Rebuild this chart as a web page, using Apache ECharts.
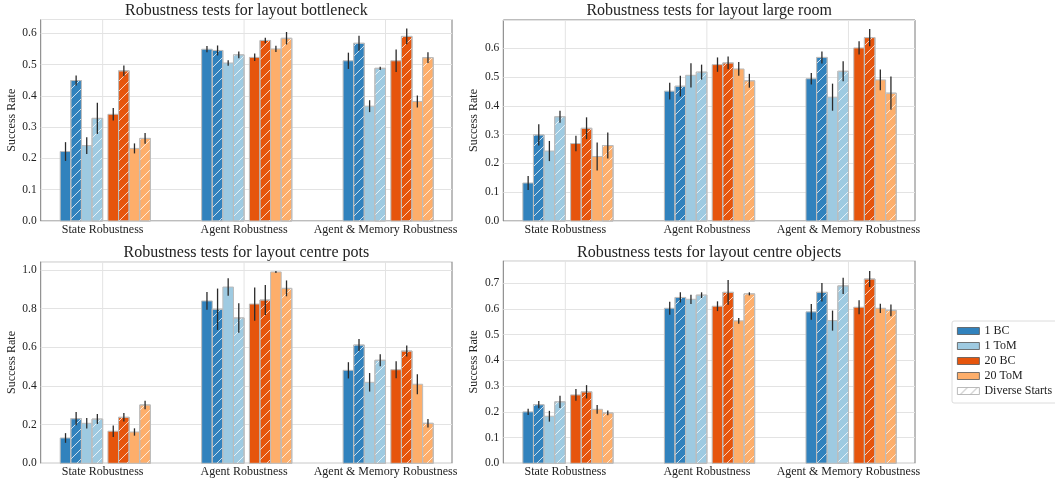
<!DOCTYPE html>
<html><head><meta charset="utf-8">
<script src="https://cdn.jsdelivr.net/npm/echarts@6/dist/echarts.min.js"></script>
<style>html,body{margin:0;padding:0;background:#fff}#c{width:1055px;height:481px}</style>
</head><body><div id="c"></div>
<script>
// ---------------- data ----------------
const categories = ['State Robustness', 'Agent Robustness', 'Agent & Memory Robustness'];
const methods = ['1 BC', '1 ToM', '20 BC', '20 ToM'];
const layouts = ['bottleneck', 'large room', 'centre pots', 'centre objects'];
// bar order inside each group: 1 BC, 1 BC diverse, 1 ToM, 1 ToM diverse, 20 BC, 20 BC diverse, 20 ToM, 20 ToM diverse
const bottleneckMean = [
  [0.222, 0.449, 0.241, 0.328, 0.341, 0.480, 0.232, 0.264],
  [0.549, 0.545, 0.505, 0.531, 0.523, 0.577, 0.550, 0.584],
  [0.512, 0.568, 0.367, 0.488, 0.512, 0.590, 0.382, 0.522]
];
const bottleneckErr = [
  [0.030, 0.016, 0.027, 0.050, 0.020, 0.017, 0.016, 0.017],
  [0.010, 0.016, 0.009, 0.011, 0.012, 0.009, 0.010, 0.020],
  [0.026, 0.024, 0.019, 0.005, 0.036, 0.025, 0.019, 0.017]
];
const largeRoomMean = [
  [0.132, 0.299, 0.243, 0.362, 0.269, 0.322, 0.224, 0.262],
  [0.451, 0.468, 0.506, 0.517, 0.543, 0.549, 0.528, 0.487],
  [0.494, 0.568, 0.430, 0.520, 0.601, 0.637, 0.490, 0.444]
];
const largeRoomErr = [
  [0.024, 0.037, 0.035, 0.021, 0.027, 0.038, 0.049, 0.045],
  [0.029, 0.036, 0.042, 0.026, 0.025, 0.022, 0.024, 0.024],
  [0.020, 0.021, 0.047, 0.035, 0.023, 0.030, 0.036, 0.058]
];
const centrePotsMean = [
  [0.131, 0.231, 0.207, 0.229, 0.166, 0.238, 0.162, 0.302],
  [0.840, 0.797, 0.912, 0.752, 0.824, 0.845, 0.990, 0.905],
  [0.481, 0.612, 0.419, 0.533, 0.484, 0.581, 0.409, 0.207]
];
const centrePotsErr = [
  [0.025, 0.034, 0.027, 0.026, 0.030, 0.022, 0.019, 0.022],
  [0.046, 0.107, 0.045, 0.076, 0.086, 0.078, 0.005, 0.041],
  [0.042, 0.031, 0.048, 0.031, 0.044, 0.029, 0.052, 0.022]
];
const centreObjectsMean = [
  [0.200, 0.228, 0.183, 0.239, 0.266, 0.278, 0.210, 0.196],
  [0.603, 0.645, 0.638, 0.654, 0.611, 0.665, 0.554, 0.659],
  [0.589, 0.665, 0.555, 0.690, 0.607, 0.717, 0.603, 0.595]
];
const centreObjectsErr = [
  [0.012, 0.014, 0.021, 0.024, 0.023, 0.026, 0.017, 0.009],
  [0.025, 0.020, 0.018, 0.011, 0.019, 0.048, 0.011, 0.006],
  [0.031, 0.036, 0.039, 0.032, 0.027, 0.031, 0.018, 0.023]
];
const yMax = [0.644, 0.698, 1.043, 0.788];
const yInterval = [0.1, 0.1, 0.2, 0.1];

// ---------------- styling / layout ----------------
const means = [bottleneckMean, largeRoomMean, centrePotsMean, centreObjectsMean];
const errs = [bottleneckErr, largeRoomErr, centrePotsErr, centreObjectsErr];
const colors = ['#3182bd', '#9ecae1', '#e6550d', '#fdae6b'];
const FONT = '"Liberation Serif", "DejaVu Serif", serif';
const grids = [
  {left: 40.7, top: 19.5, width: 411.3, height: 201.5},
  {left: 503.3, top: 20, width: 411.7, height: 201},
  {left: 40.7, top: 261.7, width: 411.3, height: 201.6},
  {left: 503.3, top: 260.7, width: 411.7, height: 202.6}
];
const titleTops = [3, 3, 245, 245];
const BW = 0.075;
function barOffset(b) {
  return b < 4 ? -0.3 + BW * (b + 0.5) : 0.0375 + BW * (b - 4 + 0.5);
}

function makeHatch(bg, line) {
  const cv = document.createElement('canvas');
  cv.width = 10; cv.height = 10;
  const ctx = cv.getContext('2d');
  if (bg) { ctx.fillStyle = bg; ctx.fillRect(0, 0, 10, 10); }
  ctx.strokeStyle = line; ctx.lineWidth = 1;
  ctx.beginPath();
  ctx.moveTo(-1, 11); ctx.lineTo(11, -1);
  ctx.moveTo(-1, 1); ctx.lineTo(1, -1);
  ctx.moveTo(9, 11); ctx.lineTo(11, 9);
  ctx.stroke();
  return cv;
}
const hatchBar = {image: makeHatch(null, 'rgba(255,255,255,0.75)'), repeat: 'repeat'};
const hatchLegend = {image: makeHatch('#ffffff', '#b0b0b0'), repeat: 'repeat'};

function barRender(params, api) {
  const x = api.value(0), y = api.value(1), e = api.value(2), div = api.value(3);
  const m = api.value(4);
  const p0 = api.coord([x - BW / 2, y]);
  const p1 = api.coord([x + BW / 2, 0]);
  const shape = {x: p0[0], y: p0[1], width: p1[0] - p0[0], height: p1[1] - p0[1]};
  const children = [{
    type: 'rect', shape: shape,
    style: {fill: colors[m], stroke: '#bcbcbc', lineWidth: 1}
  }];
  if (div) {
    children.push({type: 'rect', shape: shape, style: {fill: hatchBar, stroke: '#bcbcbc', lineWidth: 1}});
  }
  const e0 = api.coord([x, y - e]);
  const e1 = api.coord([x, y + e]);
  children.push({
    type: 'line', shape: {x1: e0[0], y1: e0[1], x2: e1[0], y2: e1[1]},
    style: {stroke: '#2a2a2a', lineWidth: 1.3}
  });
  return {type: 'group', children: children};
}

function catRender(params, api) {
  const c = api.value(0);
  const cs = params.coordSys;
  const p = api.coord([c, 0]);
  return {
    type: 'group', children: [
      {type: 'line', shape: {x1: p[0], y1: cs.y, x2: p[0], y2: cs.y + cs.height},
       style: {stroke: '#e3e3e3', lineWidth: 1}},
      {type: 'text', x: p[0], y: cs.y + cs.height + 3,
       style: {text: categories[c], fill: '#222', font: '12px ' + FONT, textAlign: 'center', textVerticalAlign: 'top'}}
    ]
  };
}

const option = {
  animation: false,
  backgroundColor: '#ffffff',
  title: grids.map((g, i) => ({
    text: 'Robustness tests for layout ' + layouts[i],
    left: g.left + g.width / 2, textAlign: 'center',
    top: titleTops[i], padding: 0,
    textStyle: {fontFamily: FONT, fontSize: 16, fontWeight: 'normal', color: '#222'}
  })),
  grid: grids.map(g => Object.assign({show: true, borderColor: '#7a7a7a', borderWidth: 1, backgroundColor: 'transparent'}, g)),
  xAxis: grids.map((g, i) => ({
    type: 'value', gridIndex: i, min: -0.438, max: 2.47,
    axisLabel: {show: false}, axisTick: {show: false}, splitLine: {show: false},
    axisLine: {show: false}
  })),
  yAxis: grids.map((g, i) => ({
    type: 'value', gridIndex: i, min: 0, max: yMax[i], interval: yInterval[i],
    name: 'Success Rate', nameLocation: 'middle', nameGap: 23,
    nameTextStyle: {fontFamily: FONT, fontSize: 12, color: '#222'},
    axisLine: {show: false}, axisTick: {show: false},
    axisLabel: {
      fontFamily: FONT, fontSize: 11.5, color: '#222', margin: 4, showMaxLabel: false,
      formatter: v => {
        const k = v / yInterval[i];
        return Math.abs(k - Math.round(k)) < 1e-6 ? v.toFixed(1) : '';
      }
    },
    splitLine: {lineStyle: {color: '#e3e3e3', width: 1}}
  })),
  legend: {
    orient: 'vertical', left: 952, top: 321,
    icon: 'rect', itemWidth: 22, itemHeight: 7, itemGap: 3,
    padding: [4, 6, 6, 5],
    backgroundColor: '#fff', borderColor: '#dcdcdc', borderWidth: 1, borderRadius: 2,
    textStyle: {fontFamily: FONT, fontSize: 12, lineHeight: 12, color: '#222'},
    selectedMode: false,
    data: methods.map((m, k) => ({name: m, itemStyle: {color: colors[k], borderColor: '#555', borderWidth: 0.8}}))
      .concat([{name: 'Diverse Starts', itemStyle: {color: hatchLegend, borderColor: '#aaa', borderWidth: 0.8}}])
  },
  series: []
};

for (let g = 0; g < 4; g++) {
  option.series.push({
    type: 'custom', name: 'cats' + g, xAxisIndex: g, yAxisIndex: g, z: 1, silent: true,
    renderItem: catRender,
    data: categories.map((c, ci) => [ci, 0])
  });
  for (let m = 0; m < 4; m++) {
    const data = [];
    for (let c = 0; c < 3; c++) {
      for (let d = 0; d < 2; d++) {
        const b = m * 2 + d;
        data.push([c + barOffset(b), means[g][c][b], errs[g][c][b], d, m]);
      }
    }
    option.series.push({
      type: 'custom', name: methods[m], xAxisIndex: g, yAxisIndex: g, z: 3,
      itemStyle: {color: colors[m]},
      renderItem: barRender,
      encode: {x: 0, y: 1},
      data: data
    });
  }
}
option.series.push({
  type: 'custom', name: 'Diverse Starts', xAxisIndex: 0, yAxisIndex: 0,
  itemStyle: {color: '#fff'}, renderItem: () => null, data: []
});

const chart = echarts.init(document.getElementById('c'), null, {renderer: 'canvas'});
chart.setOption(option);
</script>
</body></html>
